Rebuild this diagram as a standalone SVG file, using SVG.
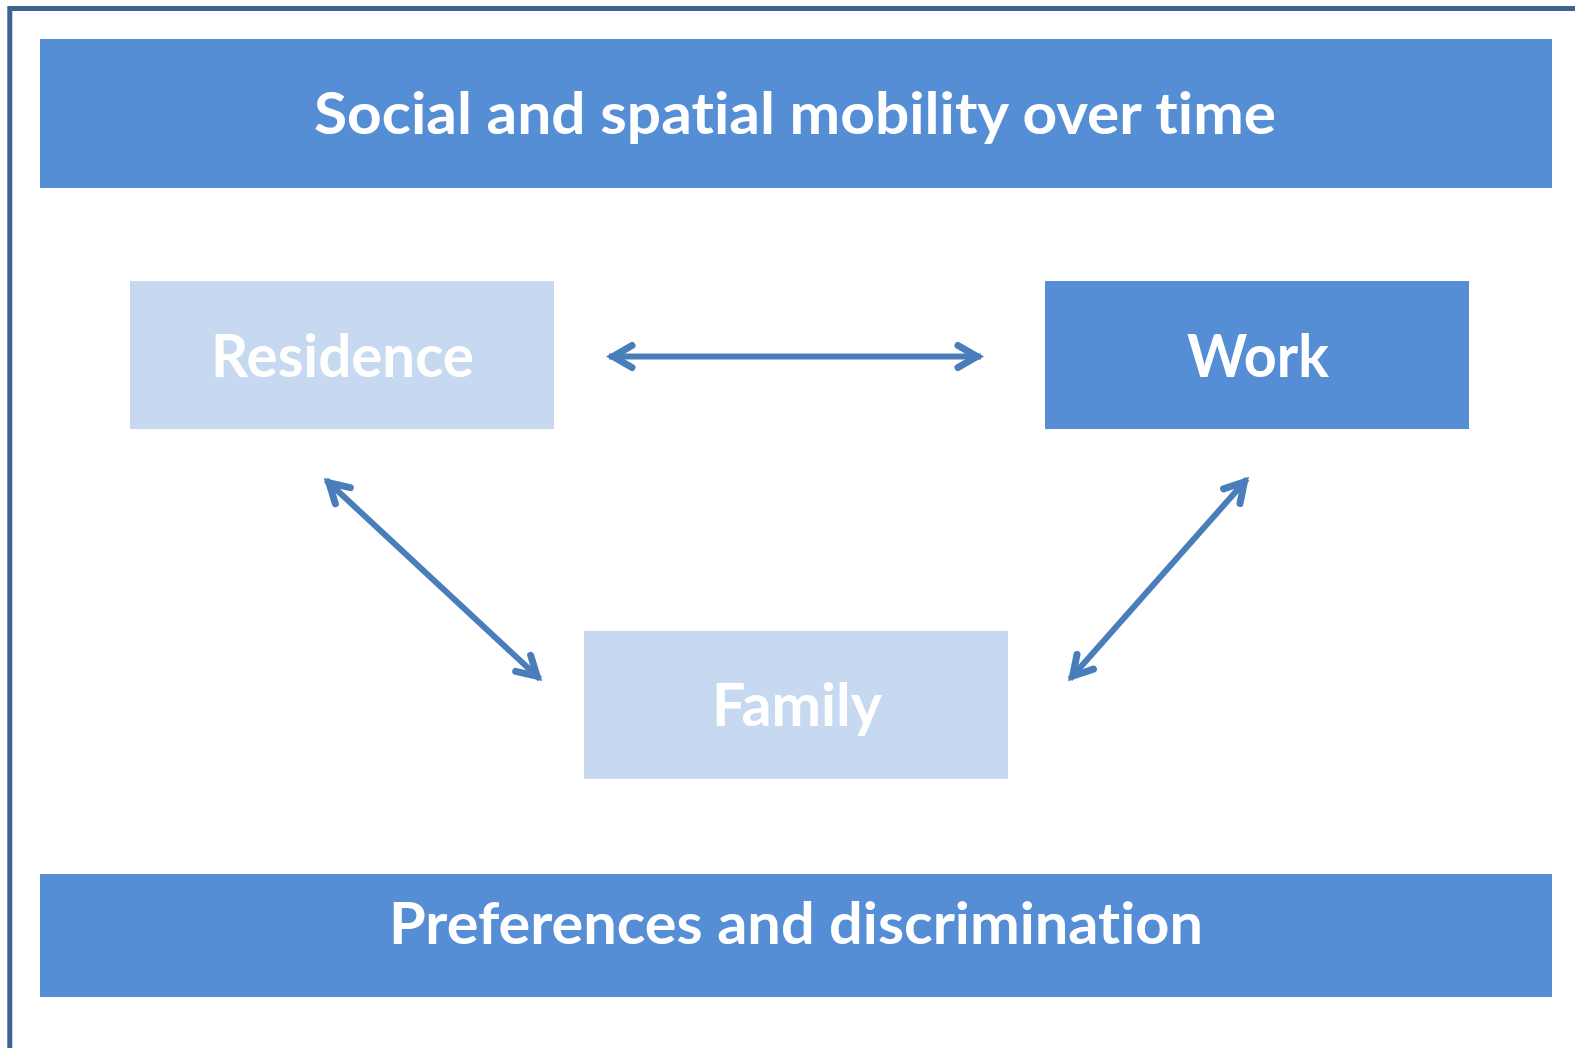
<svg xmlns="http://www.w3.org/2000/svg" width="1575" height="1048" viewBox="0 0 1575 1048">
<style>
.dark{fill:#558ED5}
.light{fill:#C6D9F1}
.t{font-family:Lato,"Open Sans","Liberation Sans",sans-serif;font-weight:bold;fill:#FFFFFF;font-variant-ligatures:none;font-feature-settings:"liga" 0,"clig" 0}
.conn{stroke:#4A7EBB;stroke-width:6;fill:none}
</style>
<defs>
<marker id="ah" markerUnits="userSpaceOnUse" markerWidth="50" markerHeight="50" viewBox="-35 -25 50 50" refX="0" refY="0" orient="auto-start-reverse" overflow="visible">
<path d="M-23,-11 L-4,0 L-23,11" fill="none" stroke="#4A7EBB" stroke-width="7" stroke-linecap="round" stroke-linejoin="miter"/>
</marker>
</defs>
<rect x="9.8" y="8.5" width="1600" height="1100" fill="none" stroke="#3D6391" stroke-width="5"/>
<g id="title">
<rect class="dark" x="40" y="39" width="1512" height="149"/>
<text class="t" x="795" y="134" font-size="58" text-anchor="middle" textLength="962" lengthAdjust="spacingAndGlyphs">Social and spatial mobility over time</text>
</g>
<g id="residence">
<rect class="light" x="130" y="281" width="424" height="148"/>
<text class="t" x="342.5" y="377" font-size="60" text-anchor="middle" textLength="263" lengthAdjust="spacingAndGlyphs">Residence</text>
</g>
<g id="work">
<rect class="dark" x="1045" y="281" width="424" height="148"/>
<text class="t" x="1258" y="377" font-size="60" text-anchor="middle" textLength="142" lengthAdjust="spacingAndGlyphs">Work</text>
</g>
<g id="family">
<rect class="light" x="584" y="631" width="424" height="148"/>
<text class="t" x="797" y="726" font-size="60" text-anchor="middle" textLength="170" lengthAdjust="spacingAndGlyphs">Family</text>
</g>
<g id="preferences">
<rect class="dark" x="40" y="874" width="1512" height="123"/>
<text class="t" x="796" y="944" font-size="58" text-anchor="middle" textLength="814" lengthAdjust="spacingAndGlyphs">Preferences and discrimination</text>
</g>
<g id="connectors">
<line class="conn" x1="609" y1="356.5" x2="981" y2="356.5" marker-start="url(#ah)" marker-end="url(#ah)"/>
<line class="conn" x1="326" y1="480" x2="540" y2="679" marker-start="url(#ah)" marker-end="url(#ah)"/>
<line class="conn" x1="1247" y1="479" x2="1070" y2="679" marker-start="url(#ah)" marker-end="url(#ah)"/>
</g>
</svg>
